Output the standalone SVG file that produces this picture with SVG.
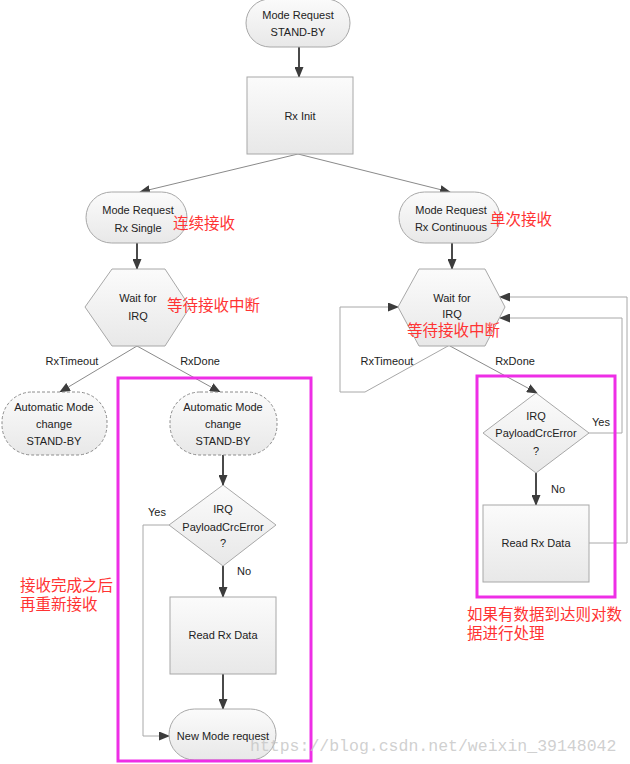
<svg xmlns="http://www.w3.org/2000/svg" width="630" height="764" viewBox="0 0 630 764">
<defs>
<linearGradient id="g" x1="0" y1="0" x2="0" y2="1">
<stop offset="0" stop-color="#fbfbfb"/>
<stop offset="1" stop-color="#e8e8e8"/>
</linearGradient>
<marker id="ah" markerWidth="11" markerHeight="9" refX="10" refY="4.5" orient="auto" markerUnits="userSpaceOnUse">
<path d="M0,0 L11,4.5 L0,9 z" fill="#3c3c3c"/>
</marker>
<style>
.s{fill:url(#g);stroke:#a8a8a8;stroke-width:1}
.d{fill:url(#g);stroke:#8c8c8c;stroke-width:1;stroke-dasharray:3 2}
.t{font-family:"Liberation Sans",Arial,sans-serif;font-size:11px;fill:#222;text-anchor:middle}
.l{font-family:"Liberation Sans",Arial,sans-serif;font-size:11px;fill:#222;text-anchor:middle}
.r{font-family:"Liberation Sans","Noto Sans CJK SC",sans-serif;font-size:15.5px;fill:#ff3333}
.v{fill:none;stroke:#4a4a4a;stroke-width:2}
.th{fill:none;stroke:#8a8a8a;stroke-width:1}
.lp{fill:none;stroke:#a8a8a8;stroke-width:1}
.m{fill:none;stroke:#ee2ee6;stroke-width:3}
</style>
</defs>
<rect width="630" height="764" fill="#fff"/>
<g id="connectors">
<line class="v" x1="299" y1="47" x2="299" y2="77" marker-end="url(#ah)"/>
<line class="th" x1="298" y1="154" x2="140" y2="192" marker-end="url(#ah)"/>
<line class="th" x1="298" y1="154" x2="450" y2="192" marker-end="url(#ah)"/>
<line class="v" x1="137" y1="243" x2="137" y2="269" marker-end="url(#ah)"/>
<line class="v" x1="452" y1="243" x2="452" y2="269" marker-end="url(#ah)"/>
<line class="th" x1="137" y1="346" x2="60" y2="392" marker-end="url(#ah)"/>
<line class="th" x1="137" y1="346" x2="220" y2="392" marker-end="url(#ah)"/>
<line class="v" x1="223" y1="455" x2="223" y2="485" marker-end="url(#ah)"/>
<line class="v" x1="223" y1="566" x2="223" y2="597" marker-end="url(#ah)"/>
<line class="v" x1="223" y1="674" x2="223" y2="709" marker-end="url(#ah)"/>
<polyline class="lp" points="169,525 143,525 143,736 169,736" marker-end="url(#ah)"/>
<polyline class="lp" points="448,346 365,392 340,392 340,307 398,307" marker-end="url(#ah)"/>
<line class="th" x1="450" y1="346" x2="537" y2="393" marker-end="url(#ah)"/>
<line class="v" x1="536" y1="473" x2="536" y2="505" marker-end="url(#ah)"/>
<polyline class="lp" points="589,433 622,433 622,318 500,318" marker-end="url(#ah)"/>
<polyline class="lp" points="589,543 627,543 627,297 500,297" marker-end="url(#ah)"/>
<text class="l" x="72" y="365">RxTimeout</text>
<text class="l" x="200" y="365">RxDone</text>
<text class="l" x="157" y="516">Yes</text>
<text class="l" x="244" y="575">No</text>
<text class="l" x="387" y="365">RxTimeout</text>
<text class="l" x="515" y="365">RxDone</text>
<text class="l" x="601" y="426">Yes</text>
<text class="l" x="558" y="493">No</text>
</g>
<g id="n-standby">
<rect class="s" x="246" y="-1" width="104" height="48" rx="24"/>
<text class="t" x="298" y="19">Mode Request</text>
<text class="t" x="298" y="36">STAND-BY</text>
</g>
<g id="n-rxinit">
<rect class="s" x="247" y="77" width="106" height="77"/>
<text class="t" x="300" y="120">Rx Init</text>
</g>
<g id="n-rxsingle">
<rect class="s" x="86" y="192" width="101" height="51" rx="25.5"/>
<text class="t" x="138" y="214">Mode Request</text>
<text class="t" x="138" y="232">Rx Single</text>
</g>
<g id="n-rxcont">
<rect class="s" x="399" y="192" width="101" height="51" rx="25.5"/>
<text class="t" x="451" y="214">Mode Request</text>
<text class="t" x="451" y="231">Rx Continuous</text>
</g>
<g id="n-wait-l">
<polygon class="s" points="85,307 112,269 165,269 190,307 165,346 112,346"/>
<text class="t" x="138" y="302">Wait for</text>
<text class="t" x="138" y="320">IRQ</text>
</g>
<g id="n-wait-r">
<polygon class="s" points="398,307 419,269 485,269 505,307 485,346 419,346"/>
<text class="t" x="452" y="302">Wait for</text>
<text class="t" x="452" y="318">IRQ</text>
</g>
<g id="n-auto-l">
<rect class="d" x="2" y="392" width="105" height="63" rx="30"/>
<text class="t" x="54" y="411">Automatic Mode</text>
<text class="t" x="54" y="428">change</text>
<text class="t" x="54" y="445">STAND-BY</text>
</g>
<g id="n-auto-r">
<rect class="d" x="170" y="392" width="107" height="63" rx="30"/>
<text class="t" x="223" y="411">Automatic Mode</text>
<text class="t" x="223" y="428">change</text>
<text class="t" x="223" y="445">STAND-BY</text>
</g>
<g id="n-crc-l">
<polygon class="s" points="223,485 276,525 223,566 169,525"/>
<text class="t" x="223" y="513">IRQ</text>
<text class="t" x="223" y="531">PayloadCrcError</text>
<text class="t" x="223" y="547">?</text>
</g>
<g id="n-read-l">
<rect class="s" x="170" y="597" width="106" height="77"/>
<text class="t" x="223" y="639">Read Rx Data</text>
</g>
<g id="n-new">
<rect class="s" x="169" y="709" width="107" height="51" rx="25.5"/>
<text class="t" x="223" y="740">New Mode request</text>
</g>
<g id="n-crc-r">
<polygon class="s" points="536,393 589,433 536,473 483,433"/>
<text class="t" x="536" y="420">IRQ</text>
<text class="t" x="536" y="437">PayloadCrcError</text>
<text class="t" x="536" y="455">?</text>
</g>
<g id="n-read-r">
<rect class="s" x="483" y="505" width="106" height="77"/>
<text class="t" x="536" y="547">Read Rx Data</text>
</g>
<g id="annotations">
<rect class="m" x="118" y="378" width="193" height="383"/>
<rect class="m" x="477" y="376" width="138" height="221"/>
<text class="r" x="173" y="229">连续接收</text>
<text class="r" x="490" y="225">单次接收</text>
<text class="r" x="167" y="311">等待接收中断</text>
<text class="r" x="407" y="336">等待接收中断</text>
<text class="r" x="20" y="591">接收完成之后</text>
<text class="r" x="20" y="610">再重新接收</text>
<text class="r" x="467" y="620">如果有数据到达则对数</text>
<text class="r" x="467" y="639">据进行处理</text>
<text x="250" y="751" font-family="Liberation Mono,monospace" font-size="16.5" fill="#c4c4c4" fill-opacity="0.8">https://blog.csdn.net/weixin_39148042</text>
</g>
</svg>
